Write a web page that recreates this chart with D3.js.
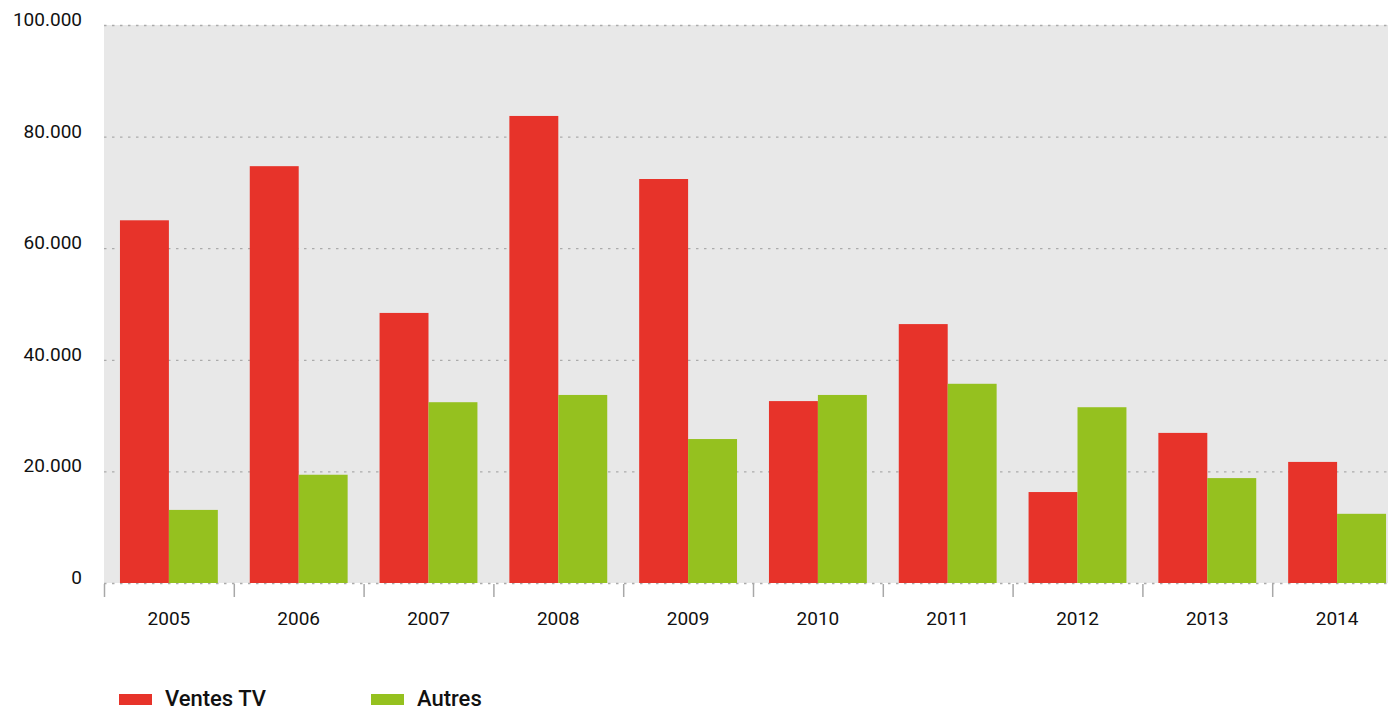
<!DOCTYPE html>
<html>
<head>
<meta charset="utf-8">
<script src="https://cdn.jsdelivr.net/npm/d3@7"></script>
<style>
  body { margin: 0; background: #fff; }
  svg { display: block; font-family: Roboto, "DejaVu Sans", sans-serif; }
</style>
</head>
<body>
<svg id="chart" width="1388" height="711"></svg>
<script>
// Data
const years = ["2005", "2006", "2007", "2008", "2009", "2010", "2011", "2012", "2013", "2014"];
const ventesTV = [65000, 74700, 48400, 83700, 72400, 32600, 46400, 16300, 26900, 21700];
const autres = [13100, 19400, 32400, 33700, 25800, 33700, 35700, 31500, 18800, 12400];
const seriesNames = ["Ventes TV", "Autres"];
const seriesColors = ["#e7332a", "#95c11f"];
const yTicks = [0, 20000, 40000, 60000, 80000, 100000];

const svg = d3.select("#chart");
const plotLeft = 104, plotTop = 25, plotBottom = 583;
const step = 129.8;
const plotRight = plotLeft + step * years.length;

const x = d3.scaleBand().domain(years).range([plotLeft, plotRight]).paddingInner(0.246).paddingOuter(0.123);
const xSub = d3.scaleBand().domain(seriesNames).range([0, x.bandwidth()]);
const y = d3.scaleLinear().domain([0, 100000]).range([plotBottom, plotTop]);

const fmt = v => d3.format(",")(v).replace(/,/g, ".");

// plot background
svg.append("rect")
    .attr("x", plotLeft).attr("y", plotTop)
    .attr("width", plotRight - plotLeft).attr("height", plotBottom - plotTop)
    .attr("fill", "#e8e8e8");

// grid lines
svg.append("g").selectAll("line")
    .data(yTicks)
    .join("line")
    .attr("x1", plotLeft).attr("x2", plotRight)
    .attr("y1", d => y(d) + 0.5).attr("y2", d => y(d) + 0.5)
    .attr("stroke", "#ababab")
    .attr("stroke-width", 1.3)
    .attr("stroke-dasharray", "2.5 5.5");

// y labels
svg.append("g").selectAll("text")
    .data(yTicks)
    .join("text")
    .attr("x", 82)
    .attr("y", d => y(d) + 1)
    .attr("text-anchor", "end")
    .attr("font-size", "19px")
    .attr("fill", "#111")
    .text(d => fmt(d));

// bars
const groups = svg.append("g").selectAll("g")
    .data(years.map((yr, i) => ({ year: yr, values: [ventesTV[i], autres[i]] })))
    .join("g")
    .attr("transform", d => `translate(${x(d.year)},0)`);

groups.selectAll("rect")
    .data(d => d.values.map((v, j) => ({ name: seriesNames[j], value: v, color: seriesColors[j] })))
    .join("rect")
    .attr("x", d => xSub(d.name))
    .attr("y", d => y(d.value))
    .attr("width", xSub.bandwidth())
    .attr("height", d => plotBottom - y(d.value))
    .attr("fill", d => d.color);

// x ticks at band boundaries
svg.append("g").selectAll("line")
    .data(years)
    .join("line")
    .attr("x1", d => x(d) - x.step() * x.paddingOuter() + 0.5)
    .attr("x2", d => x(d) - x.step() * x.paddingOuter() + 0.5)
    .attr("y1", plotBottom + 1).attr("y2", plotBottom + 14)
    .attr("stroke", "#a8a8a8")
    .attr("stroke-width", 1.5);

// x labels
svg.append("g").selectAll("text")
    .data(years)
    .join("text")
    .attr("x", d => x(d) + x.bandwidth() / 2)
    .attr("y", 625)
    .attr("text-anchor", "middle")
    .attr("font-size", "19px")
    .attr("fill", "#111")
    .text(d => d);

// legend
const legendX = [119, 371];
const legend = svg.append("g").selectAll("g")
    .data(seriesNames)
    .join("g")
    .attr("transform", (d, i) => `translate(${legendX[i]},0)`);

legend.append("rect")
    .attr("x", 0).attr("y", 694)
    .attr("width", 33).attr("height", 11)
    .attr("fill", (d, i) => seriesColors[i]);

legend.append("text")
    .attr("x", 46).attr("y", 706)
    .attr("font-size", "22px")
    .attr("font-weight", 500)
    .attr("fill", "#111")
    .text(d => d);
</script>
</body>
</html>
